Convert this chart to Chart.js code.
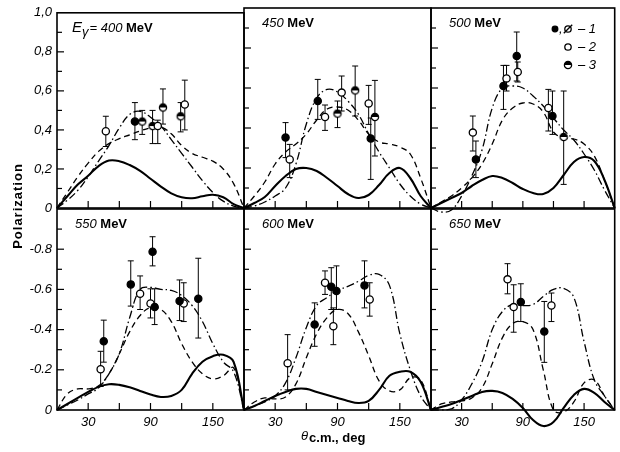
<!DOCTYPE html>
<html><head><meta charset="utf-8">
<script src="https://cdn.jsdelivr.net/npm/chart.js@4.4.1/dist/chart.umd.min.js"></script>
<style>
html,body{margin:0;padding:0;background:#fff;}
#wrap{position:relative;width:620px;height:452px;overflow:hidden;}
#wrap canvas{position:absolute;left:0;top:0;}
</style></head><body><div id="wrap"></div>
<script>
// ---------- DATA ----------
const curveAngles = [0,10,20,30,40,50,60,70,80,90,100,110,120,130,140,150,160,170,180];

const solid400   = [0,0.06,0.12,0.165,0.215,0.243,0.24,0.22,0.19,0.15,0.11,0.075,0.055,0.05,0.06,0.068,0.055,0.02,0];
const dashed400  = [0,0.08,0.16,0.23,0.29,0.33,0.355,0.375,0.395,0.41,0.415,0.38,0.32,0.28,0.26,0.24,0.2,0.125,0];
const dashdot400 = [0,0.04,0.09,0.16,0.24,0.32,0.41,0.48,0.495,0.465,0.42,0.35,0.28,0.21,0.14,0.08,0.035,0.01,0];

const solid450   = [0,0.025,0.055,0.11,0.16,0.195,0.2,0.185,0.15,0.11,0.07,0.05,0.065,0.115,0.175,0.2,0.15,0.06,0];
const dashed450  = [0,0.06,0.13,0.22,0.28,0.32,0.37,0.44,0.495,0.505,0.49,0.44,0.37,0.33,0.32,0.305,0.27,0.15,0];
const dashdot450 = [0,0.01,0.03,0.06,0.1,0.22,0.42,0.55,0.593,0.58,0.535,0.47,0.37,0.28,0.2,0.12,0.06,0.02,0];

const solid500   = [0,0.025,0.05,0.075,0.11,0.14,0.16,0.15,0.125,0.095,0.075,0.07,0.1,0.165,0.23,0.255,0.235,0.14,0];
const dashed500  = [0,0.03,0.06,0.1,0.15,0.22,0.32,0.44,0.5,0.525,0.52,0.48,0.38,0.35,0.345,0.32,0.26,0.14,0];
const dashdot500 = [0,-0.02,-0.01,0.06,0.16,0.29,0.5,0.6,0.61,0.6,0.56,0.51,0.45,0.39,0.34,0.27,0.19,0.09,0];

const solid550   = [0,-0.03,-0.06,-0.09,-0.115,-0.128,-0.125,-0.113,-0.095,-0.077,-0.065,-0.07,-0.1,-0.18,-0.24,-0.268,-0.275,-0.24,0];
const dashed550  = [0,-0.08,-0.105,-0.105,-0.12,-0.18,-0.28,-0.39,-0.47,-0.51,-0.5,-0.44,-0.33,-0.24,-0.18,-0.155,-0.17,-0.21,0];
const dashdot550 = [0,-0.025,-0.05,-0.08,-0.11,-0.18,-0.28,-0.46,-0.6,-0.61,-0.6,-0.595,-0.57,-0.52,-0.44,-0.33,-0.24,-0.19,0];

const solid600   = [0,-0.02,-0.045,-0.07,-0.09,-0.105,-0.105,-0.09,-0.075,-0.06,-0.045,-0.035,-0.045,-0.1,-0.17,-0.19,-0.19,-0.14,0];
const dashed600  = [0,-0.04,-0.06,-0.055,-0.065,-0.13,-0.26,-0.38,-0.46,-0.5,-0.48,-0.39,-0.27,-0.145,-0.095,-0.1,-0.16,-0.15,0];
const dashdot600 = [0,-0.02,-0.04,-0.07,-0.135,-0.26,-0.41,-0.52,-0.56,-0.595,-0.615,-0.64,-0.67,-0.675,-0.62,-0.38,-0.2,-0.07,0];

const solid650   = [0,-0.015,-0.03,-0.05,-0.07,-0.09,-0.095,-0.085,-0.055,-0.01,0.05,0.08,0.06,-0.01,-0.075,-0.105,-0.085,-0.04,0];
const dashed650  = [0,-0.03,-0.04,-0.045,-0.06,-0.11,-0.23,-0.36,-0.43,-0.44,-0.4,-0.2,0,0.01,-0.04,-0.135,-0.15,-0.07,0];
const dashdot650 = [0,0,-0.005,-0.05,-0.13,-0.24,-0.4,-0.49,-0.525,-0.52,-0.525,-0.565,-0.6,-0.605,-0.56,-0.34,-0.15,-0.07,0];

// measured points: [angle, polarization, error low, error high, data set (1,2,3)]
const points400 = [[47,0.393,0.315,0.47,2],[75,0.443,0.35,0.54,1],[82,0.443,0.377,0.5,3],[92,0.42,0.33,0.5,3],
  [97,0.42,0.33,0.45,2],[102,0.515,0.43,0.61,3],[119,0.47,0.39,0.54,3],[123,0.53,0.40,0.655,2]];
const points450 = [[40,0.352,0.252,0.427,1],[44,0.243,0.152,0.318,2],[71,0.535,0.443,0.643,1],[78,0.455,0.388,0.515,2],
  [90,0.472,0.402,0.535,3],[94,0.577,0.485,0.66,2],[107,0.588,0.46,0.71,3],[120,0.523,0.418,0.613,2],
  [122,0.348,0.143,0.45,1],[126,0.455,0.26,0.638,3]];
const points500 = [[41,0.377,0.285,0.46,2],[44,0.243,0.152,0.335,1],[71,0.61,0.493,0.713,1],[74,0.648,0.585,0.713,2],
  [84,0.76,0.635,0.88,1],[85,0.68,0.63,0.73,2],[115,0.5,0.385,0.593,2],[119,0.46,0.368,0.585,1],[130,0.355,0.118,0.585,3]];
const points550 = [[42,-0.203,-0.117,-0.292,2],[45,-0.342,-0.238,-0.447,1],[71,-0.625,-0.517,-0.742,1],[80,-0.578,-0.5,-0.667,2],
  [90,-0.53,-0.458,-0.603,2],[92,-0.787,-0.717,-0.862,1],[94,-0.513,-0.425,-0.603,1],[118,-0.542,-0.445,-0.647,1],
  [122,-0.53,-0.44,-0.633,2],[136,-0.553,-0.358,-0.755,1]];
const points600 = [[42,-0.233,-0.1,-0.375,2],[68,-0.425,-0.317,-0.533,1],[78,-0.633,-0.575,-0.692,2],[84,-0.613,-0.5,-0.708,1],
  [86,-0.417,-0.325,-0.508,2],[89,-0.592,-0.5,-0.717,1],[116,-0.62,-0.508,-0.742,1],[121,-0.55,-0.467,-0.633,2]];
const points650 = [[75,-0.65,-0.578,-0.728,2],[81,-0.512,-0.387,-0.623,2],[88,-0.537,-0.44,-0.628,1],
  [111,-0.39,-0.237,-0.54,1],[118,-0.52,-0.44,-0.582,2]];

const energies = [400,450,500,550,600,650];
const xTickValues = [30,90,150];
const yTickValuesTop = [0,0.2,0.4,0.6,0.8,1.0];
const yTickLabelsTop = ['0','0,2','0,4','0,6','0,8','1,0'];
const yTickValuesBottom = [0,-0.2,-0.4,-0.6,-0.8];
const yTickLabelsBottom = ['0','-0.2','-0.4','-0.6','-0.8'];
const legendLabels = ['– 1','– 2','– 3'];

// ---------- LAYOUT ----------
const W = 620, H = 452;
const COLX = [57,244,431,616];
const ROWY = [[8,208],[209,410]];
const FONT = '"Liberation Sans", Arial, sans-serif';

const PANELS = [
  {e:energies[0], s:solid400, d:dashed400, dd:dashdot400, p:points400},
  {e:energies[1], s:solid450, d:dashed450, dd:dashdot450, p:points450},
  {e:energies[2], s:solid500, d:dashed500, dd:dashdot500, p:points500},
  {e:energies[3], s:solid550, d:dashed550, dd:dashdot550, p:points550},
  {e:energies[4], s:solid600, d:dashed600, dd:dashdot600, p:points600},
  {e:energies[5], s:solid650, d:dashed650, dd:dashdot650, p:points650}
];

function halfMarker(r){
  const s = Math.ceil(2*r+4);
  const c = document.createElement('canvas'); c.width = s; c.height = s;
  const g = c.getContext('2d'); const cx = s/2;
  g.beginPath(); g.arc(cx,cx,r,0,2*Math.PI); g.fillStyle='#fff'; g.fill();
  g.beginPath(); g.arc(cx,cx,r,Math.PI,2*Math.PI); g.closePath(); g.fillStyle='#000'; g.fill();
  g.beginPath(); g.arc(cx,cx,r,0,2*Math.PI); g.lineWidth=1.3; g.strokeStyle='#000'; g.stroke();
  return c;
}
const HALF = halfMarker(3.6);

function drawMarker(ctx, kind, x, y, r){
  ctx.save();
  ctx.lineWidth = 1.3; ctx.strokeStyle = '#000';
  if (kind === 3){ ctx.drawImage(HALF, x - HALF.width/2, y - HALF.height/2); ctx.restore(); return; }
  ctx.beginPath(); ctx.arc(x,y,r,0,2*Math.PI);
  ctx.fillStyle = kind === 1 ? '#000' : '#fff'; ctx.fill(); ctx.stroke();
  if (kind === 4){ ctx.beginPath(); ctx.moveTo(x - r - 1, y + r + 1); ctx.lineTo(x + r + 1, y - r - 1); ctx.stroke(); }
  ctx.restore();
}

function runs(ctx, x, y, list){
  for (const r of list){
    ctx.font = r.f;
    ctx.fillText(r.t, x, y + (r.dy||0));
    x += ctx.measureText(r.t).width + (r.gap||0);
  }
}

const panelPlugin = {
  id: 'panel',
  beforeDatasetsDraw(chart, args, opts){
    const P = PANELS[opts.i], row = Math.floor(opts.i/3);
    const ctx = chart.ctx, xs = chart.scales.x, ys = chart.scales.y, a = chart.chartArea;
    ctx.save();
    ctx.strokeStyle = '#000';
    ctx.lineWidth = 1.2;
    for (let k = 1; k < 10; k++){
      const v = row ? -k/10 : k/10;
      const y = ys.getPixelForValue(v);
      ctx.beginPath(); ctx.moveTo(a.left, y); ctx.lineTo(a.left + (k%2===0 ? 7 : 5), y); ctx.stroke();
    }
    for (let ang = 30; ang < 180; ang += 30){
      const x = xs.getPixelForValue(ang);
      ctx.beginPath(); ctx.moveTo(x, a.bottom); ctx.lineTo(x, a.bottom - 7); ctx.stroke();
    }
    ctx.lineWidth = 1;
    for (const p of P.p){
      const x = xs.getPixelForValue(p[0]);
      const y1 = ys.getPixelForValue(p[2]), y2 = ys.getPixelForValue(p[3]);
      ctx.beginPath();
      ctx.moveTo(x, y1); ctx.lineTo(x, y2);
      ctx.moveTo(x-3, y1); ctx.lineTo(x+3, y1);
      ctx.moveTo(x-3, y2); ctx.lineTo(x+3, y2);
      ctx.stroke();
    }
    ctx.restore();
  },
  afterDraw(chart, args, opts){
    const i = opts.i, P = PANELS[i];
    const ctx = chart.ctx, a = chart.chartArea;
    ctx.save();
    ctx.strokeStyle = '#000'; ctx.lineWidth = 1.6;
    ctx.strokeRect(a.left, a.top, a.right - a.left, a.bottom - a.top);
    ctx.fillStyle = '#000'; ctx.textBaseline = 'alphabetic'; ctx.textAlign = 'left';
    const lx = a.left + 15, ly = a.top + 19;
    if (i === 0){
      runs(ctx, lx, ly, [
        {t:'E', f:'italic 15px ' + FONT},
        {t:'γ', f:'italic 13px ' + FONT, dy:4, gap:1},
        {t:'= ' + P.e + ' ', f:'italic 13px ' + FONT},
        {t:'MeV', f:'bold 13px ' + FONT}]);
    } else {
      runs(ctx, lx + 3, ly, [
        {t:P.e + ' ', f:'italic 13px ' + FONT},
        {t:'MeV', f:'bold 13px ' + FONT}]);
    }
    if (i === 2){
      const rowsY = [33, 51, 69];
      ctx.font = 'italic 13px ' + FONT;
      drawMarker(ctx, 1, 555, rowsY[0]-4, 2.8);
      ctx.fillText(',', 559, rowsY[0]);
      drawMarker(ctx, 4, 568, rowsY[0]-4, 3.2);
      drawMarker(ctx, 2, 568, rowsY[1]-4, 3.2);
      drawMarker(ctx, 3, 568, rowsY[2]-4, 3.6);
      ctx.font = 'italic 13px ' + FONT;
      for (let k = 0; k < 3; k++) ctx.fillText(legendLabels[k], 578, rowsY[k]);
    }
    if (i === 3){
      ctx.save();
      ctx.translate(22, 206); ctx.rotate(-Math.PI/2);
      ctx.textAlign = 'center'; ctx.font = 'bold 13px ' + FONT;
      try { ctx.letterSpacing = '1px'; } catch(e){}
      ctx.fillText('Polarization', 0, 0);
      ctx.restore();
    }
    if (i === 4){
      runs(ctx, 301, 440, [
        {t:'θ', f:'italic 13px ' + FONT, gap:1},
        {t:'c.m., deg', f:'bold 13px ' + FONT, dy:2}]);
    }
    ctx.restore();
  }
};

function curveSet(vals, width, dash){
  return {
    data: curveAngles.map((ang, k) => ({x: ang, y: vals[k]})),
    showLine: true, pointRadius: 0, borderColor: '#000', borderWidth: width,
    borderDash: dash, tension: 0.4, fill: false, clip: false
  };
}
function pointSet(pts, kind){
  const base = {
    data: pts.filter(p => p[4] === kind).map(p => ({x: p[0], y: p[1]})),
    showLine: false, borderColor: '#000', borderWidth: 1.3, clip: false
  };
  if (kind === 1) return Object.assign(base, {pointStyle:'circle', pointRadius:3.6, backgroundColor:'#000'});
  if (kind === 2) return Object.assign(base, {pointStyle:'circle', pointRadius:3.6, backgroundColor:'#fff'});
  return Object.assign(base, {pointStyle: HALF, pointRadius: 3.6, backgroundColor:'#000'});
}

const wrap = document.getElementById('wrap');
PANELS.forEach((P, i) => {
  const col = i % 3, row = Math.floor(i / 3);
  const left = COLX[col], right = COLX[col+1];
  const top = ROWY[row][0], bottom = ROWY[row][1];
  const showY = col === 0, showX = row === 1;
  const YW = 50, XH = 26;
  const cv = document.createElement('canvas');
  cv.width = W; cv.height = H; cv.style.width = W + 'px'; cv.style.height = H + 'px';
  wrap.appendChild(cv);
  const tickFont = {family: FONT, size: 13, style: 'italic'};
  new Chart(cv, {
    type: 'scatter',
    data: { datasets: [
      pointSet(P.p, 1), pointSet(P.p, 2), pointSet(P.p, 3),
      curveSet(P.s, 2.1, []),
      curveSet(P.d, 1.3, [6, 4]),
      curveSet(P.dd, 1.3, [8, 3, 1.5, 3])
    ]},
    options: {
      responsive: false, animation: false, devicePixelRatio: 1, events: [],
      layout: { padding: {
        left: showY ? left - YW : left, right: W - right,
        top: top, bottom: showX ? H - bottom - XH : H - bottom } },
      plugins: { legend: {display: false}, tooltip: {enabled: false}, panel: {i: i} },
      scales: {
        x: { type: 'linear', min: 0, max: 180, display: showX,
             grid: {display: false, drawTicks: false}, border: {display: false},
             ticks: { stepSize: 30, autoSkip: false, maxRotation: 0, padding: 5, color: '#000', font: tickFont,
                      callback: v => xTickValues.includes(v) ? String(v) : '' },
             afterFit: s => { s.height = showX ? XH : 0; } },
        y: { type: 'linear', min: row ? -1 : 0, max: row ? 0 : 1, reverse: row === 1, display: showY,
             grid: {display: false, drawTicks: false}, border: {display: false},
             ticks: { stepSize: 0.2, autoSkip: false, padding: 5, color: '#000', font: tickFont,
                      callback: v => {
                        const vals = row ? yTickValuesBottom : yTickValuesTop;
                        const labs = row ? yTickLabelsBottom : yTickLabelsTop;
                        const k = vals.findIndex(t => Math.abs(t - v) < 1e-6);
                        return k < 0 ? '' : labs[k];
                      } },
             afterFit: s => { s.width = showY ? YW : 0; } }
      }
    },
    plugins: [panelPlugin]
  });
});
</script></body></html>
